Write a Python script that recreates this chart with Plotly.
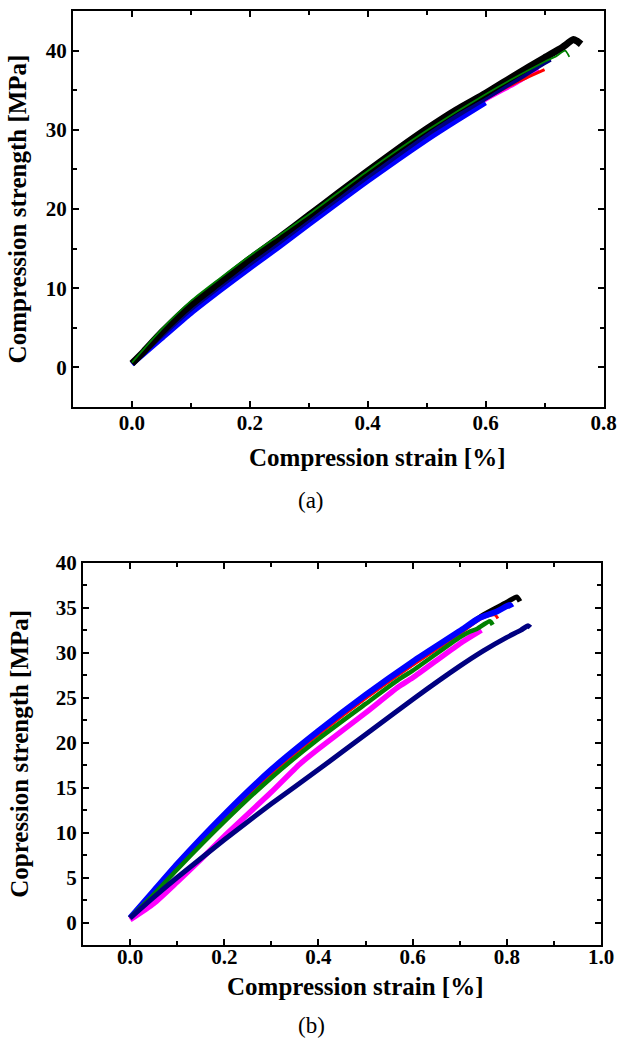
import plotly.graph_objects as go

# ---------------- Panel (a) data ----------------
a_black_x = [0.0, 0.02, 0.05, 0.1, 0.15, 0.2, 0.25, 0.3, 0.35, 0.4, 0.45, 0.5, 0.55, 0.6, 0.65, 0.7, 0.73, 0.749, 0.755, 0.762]
a_black_y = [0.5, 2.0, 4.4, 7.9, 10.8, 13.7, 16.4, 19.2, 22.0, 24.8, 27.5, 30.1, 32.5, 34.6, 36.9, 39.1, 40.4, 41.4, 41.2, 40.8]

a_green_x = [0.0, 0.05, 0.1, 0.15, 0.2, 0.25, 0.3, 0.4, 0.5, 0.6, 0.7, 0.72, 0.735, 0.742]
a_green_y = [0.6, 4.8, 8.4, 11.3, 14.1, 16.7, 19.3, 24.8, 29.9, 34.5, 38.6, 39.3, 40.0, 39.2]

a_navy_x = [0.0, 0.05, 0.1, 0.15, 0.2, 0.25, 0.3, 0.4, 0.5, 0.6, 0.65, 0.7, 0.71]
a_navy_y = [0.5, 4.0, 7.4, 10.3, 13.1, 15.8, 18.6, 24.1, 29.4, 34.0, 36.2, 38.5, 38.9]

a_blue_x = [0.0, 0.05, 0.1, 0.15, 0.2, 0.25, 0.3, 0.4, 0.5, 0.55, 0.6]
a_blue_y = [0.4, 3.6, 6.8, 9.7, 12.5, 15.2, 18.0, 23.5, 28.7, 31.1, 33.4]

a_magenta_x = [0.0, 0.05, 0.1, 0.2, 0.3, 0.4, 0.5, 0.6, 0.65, 0.69]
a_magenta_y = [0.7, 4.0, 7.3, 13.0, 18.5, 24.0, 29.2, 33.8, 35.8, 37.6]

a_red_x = [0.0, 0.1, 0.2, 0.3, 0.4, 0.5, 0.6, 0.65, 0.7]
a_red_y = [0.5, 7.4, 13.2, 18.6, 24.1, 29.3, 33.9, 35.9, 37.6]

# ---------------- Panel (b) data ----------------
b_black_x = [0.0, 0.1, 0.2, 0.3, 0.4, 0.5, 0.6, 0.7, 0.75, 0.8, 0.821, 0.828]
b_black_y = [0.5, 6.3, 11.8, 16.8, 21.1, 25.1, 28.8, 32.3, 34.2, 35.6, 36.2, 35.7]

b_red_x = [0.0, 0.1, 0.2, 0.3, 0.4, 0.5, 0.6, 0.7, 0.74, 0.76, 0.775, 0.781]
b_red_y = [0.5, 6.2, 11.7, 16.6, 20.9, 24.9, 28.6, 32.1, 33.6, 34.1, 34.2, 33.8]

b_blue_x = [0.0, 0.05, 0.1, 0.2, 0.3, 0.4, 0.5, 0.6, 0.7, 0.74, 0.78, 0.806, 0.81]
b_blue_y = [0.5, 3.5, 6.5, 12.0, 17.0, 21.3, 25.3, 29.0, 32.4, 33.8, 34.6, 35.3, 35.0]

b_magenta_x = [0.0, 0.05, 0.1, 0.15, 0.2, 0.3, 0.36, 0.4, 0.5, 0.57, 0.6, 0.7, 0.746]
b_magenta_y = [0.3, 2.1, 4.5, 7.0, 9.6, 14.5, 17.6, 19.3, 23.3, 26.2, 27.2, 31.0, 32.5]

b_green_x = [0.0, 0.05, 0.1, 0.2, 0.3, 0.4, 0.5, 0.57, 0.6, 0.7, 0.72, 0.735, 0.764, 0.77]
b_green_y = [0.5, 3.1, 5.9, 11.2, 16.1, 20.4, 24.3, 27.0, 28.0, 31.7, 32.3, 32.6, 33.5, 33.1]

b_navy_x = [0.0, 0.05, 0.1, 0.2, 0.3, 0.4, 0.5, 0.6, 0.7, 0.75, 0.8, 0.83, 0.845, 0.85]
b_navy_y = [0.5, 2.8, 5.0, 9.2, 13.2, 17.0, 20.9, 24.8, 28.5, 30.2, 31.7, 32.5, 33.0, 32.8]

# ---------------- Tick settings ----------------
a_xticks = [0.0, 0.2, 0.4, 0.6, 0.8]
a_yticks = [0, 10, 20, 30, 40]
b_xticks = [0.0, 0.2, 0.4, 0.6, 0.8, 1.0]
b_yticks = [0, 5, 10, 15, 20, 25, 30, 35, 40]

FONT = "Liberation Serif"

fig = go.Figure()

def add(x, y, color, width, xa, ya):
    fig.add_trace(go.Scatter(x=x, y=y, mode="lines", xaxis=xa, yaxis=ya,
                             line=dict(color=color, width=width, shape="spline", smoothing=0.6),
                             showlegend=False, hoverinfo="skip"))

# panel (a)
add(a_magenta_x, a_magenta_y, "#FF00FF", 4, "x", "y")
add(a_red_x, a_red_y, "#FF0000", 3, "x", "y")
add(a_blue_x, a_blue_y, "#0000FF", 5, "x", "y")
add(a_navy_x, a_navy_y, "#000080", 5, "x", "y")
add(a_black_x, a_black_y, "#000000", 7, "x", "y")
add(a_green_x, a_green_y, "#008000", 1.8, "x", "y")

# panel (b)
add(b_black_x, b_black_y, "#000000", 5, "x2", "y2")
add(b_red_x, b_red_y, "#FF0000", 3, "x2", "y2")
add(b_blue_x, b_blue_y, "#0000FF", 6, "x2", "y2")
add(b_magenta_x, b_magenta_y, "#FF00FF", 5.5, "x2", "y2")
add(b_green_x, b_green_y, "#008000", 4.5, "x2", "y2")
add(b_navy_x, b_navy_y, "#000080", 5, "x2", "y2")

W, H = 618, 1039

def axis_common():
    return dict(showline=True, linecolor="black", linewidth=2, mirror="ticks",
                ticks="inside", ticklen=6, tickwidth=1.5, tickcolor="black",
                showgrid=False, zeroline=False, automargin=False,
                tickfont=dict(family=FONT, size=21, color="black", weight="bold"))

tf = dict(family=FONT, size=25, color="black", weight="bold")

xa = axis_common()
xa.update(domain=[73 / W, 603.5 / W], range=[-0.1, 0.8], tickvals=a_xticks,
          tickformat=".1f", anchor="y", ticklabelstandoff=-4,
          minor=dict(ticks="inside", ticklen=4, dtick=0.1, tick0=0, tickcolor="black", tickwidth=1.5))
ya = axis_common()
ya.update(domain=[1 - 407 / H, 1 - 11 / H], range=[-5, 45], tickvals=a_yticks, anchor="x",
          minor=dict(ticks="inside", ticklen=4, dtick=5, tick0=0, tickcolor="black", tickwidth=1.5),
          title=dict(text="Compression strength [MPa]", font=tf, standoff=12))

xb = axis_common()
xb.update(domain=[83 / W, 601 / W], range=[-0.1, 1.0], tickvals=b_xticks,
          tickformat=".1f", anchor="y2", ticklabelstandoff=-8,
          minor=dict(ticks="inside", ticklen=4, dtick=0.1, tick0=0, tickcolor="black", tickwidth=1.5))
yb = axis_common()
yb.update(domain=[1 - 945 / H, 1 - 562.7 / H], range=[-2.5, 40], tickvals=b_yticks, anchor="x2",
          minor=dict(ticks="inside", ticklen=4, dtick=2.5, tick0=0, tickcolor="black", tickwidth=1.5),
          title=dict(text="Copression strength [MPa]", font=tf, standoff=20))

def paper_text(text, xc, yc, font):
    return dict(text=text, x=xc / W, y=1 - yc / H, xref="paper", yref="paper",
                showarrow=False, font=font, xanchor="center", yanchor="middle")

cap = dict(family=FONT, size=23, color="black")

fig.update_layout(
    template="none",
    width=W, height=H,
    margin=dict(l=0, r=0, t=0, b=0, pad=0),
    paper_bgcolor="white", plot_bgcolor="white",
    xaxis=xa, yaxis=ya, xaxis2=xb, yaxis2=yb,
    showlegend=False,
    annotations=[
        paper_text("Compression strain [%]", 377, 458, tf),
        paper_text("Compression strain [%]", 355, 986, tf),
        paper_text("(a)", 311, 500, cap),
        paper_text("(b)", 311, 1025, cap),
    ],
)

fig.write_html("out.html", config={"displayModeBar": False},
               post_script="document.body.style.margin='0';document.body.style.overflow='hidden';")
